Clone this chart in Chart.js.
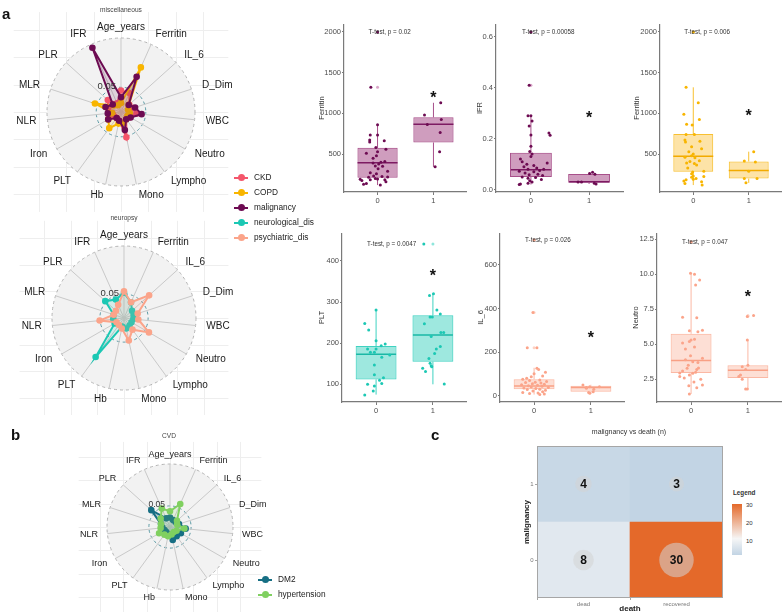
<!DOCTYPE html>
<html>
<head>
<meta charset="utf-8">
<script src="https://cdn.jsdelivr.net/npm/chart.js@4.4.1/dist/chart.umd.min.js"></script>
<style>
  body { margin: 0; background: #fff; font-family: "Liberation Sans", Arial, sans-serif; }
  #fig { position: relative; width: 784px; height: 614px; overflow: hidden; }
  canvas { position: absolute; }
  .tag { position: absolute; font-weight: bold; font-size: 15px; line-height: 15px; color: #111; }
  .sub { position: absolute; font-size: 6.6px; line-height: 8px; color: #444; transform: translateX(-50%); white-space: nowrap; }
  .leg { position: absolute; font-size: 8.3px; color: #222; white-space: nowrap; }
  .leg div { position: relative; height: 15px; line-height: 15px; padding-left: 20px; }
  .leg i { position: absolute; left: 0; top: 6.5px; width: 14px; height: 2px; }
  .leg i:after { content: ''; position: absolute; left: 3.5px; top: -2.5px; width: 7px; height: 7px; border-radius: 50%; background: inherit; }
  .txt { position: absolute; white-space: nowrap; color: #333; }
</style>
</head>
<body>
<div id="fig">
  <canvas id="radarMisc" width="250" height="215" style="left:0;top:0"></canvas>
  <canvas id="radarNeuro" width="250" height="200" style="left:0;top:215px"></canvas>
  <canvas id="radarCvd" width="290" height="194" style="left:0;top:420px"></canvas>

  <canvas id="boxFerMalig" width="150" height="184" style="left:317px;top:24px"></canvas>
  <canvas id="boxIfrMalig" width="149" height="184" style="left:475px;top:24px"></canvas>
  <canvas id="boxFerCopd" width="150" height="184" style="left:632px;top:24px"></canvas>
  <canvas id="boxPltNeuro" width="150" height="185" style="left:317px;top:233px"></canvas>
  <canvas id="boxIl6Psych" width="149" height="185" style="left:476px;top:233px"></canvas>
  <canvas id="boxNeutroPsych" width="151" height="185" style="left:631px;top:233px"></canvas>

  <canvas id="heat" width="201" height="168" style="left:522px;top:446px"></canvas>

  <div class="tag" style="left:2px;top:6px">a</div>
  <div class="tag" style="left:11px;top:427px">b</div>
  <div class="tag" style="left:431px;top:427px">c</div>

  <div class="sub" style="left:121px;top:6px">miscellaneous</div>
  <div class="sub" style="left:124px;top:214px">neuropsy</div>
  <div class="sub" style="left:169px;top:432px">CVD</div>

  <div class="leg" style="left:234px;top:170px">
    <div><i style="background:#f4566b"></i>CKD</div>
    <div><i style="background:#f8b500"></i>COPD</div>
    <div><i style="background:#6d0b52"></i>malignancy</div>
    <div><i style="background:#1cc8b4"></i>neurological_dis</div>
    <div><i style="background:#fba48a"></i>psychiatric_dis</div>
  </div>
  <div class="leg" style="left:258px;top:572px">
    <div><i style="background:#176f84"></i>DM2</div>
    <div><i style="background:#80d060"></i>hypertension</div>
  </div>

  <div class="txt" style="left:629px;top:428px;font-size:7px;transform:translateX(-50%)">malignancy vs death (n)</div>
  <div class="txt" style="left:733px;top:489px;font-size:6.3px;font-weight:bold">Legend</div>
  <div style="position:absolute;left:732px;top:504px;width:10px;height:51px;background:linear-gradient(to bottom,#e4692a 0%,#f6f6f6 68%,#c2d4e4 100%)"></div>
  <div class="txt" style="left:746px;top:502px;font-size:6px">30</div>
  <div class="txt" style="left:746px;top:520px;font-size:6px">20</div>
  <div class="txt" style="left:746px;top:538px;font-size:6px">10</div>
</div>

<script>
// ---- radar data (share of outer radius, 0.05 level sits on the dashed ring) ----
const radarAxes = ['Age_years', 'Ferritin', 'IL_6', 'D_Dim', 'WBC', 'Neutro', 'Lympho', 'Mono', 'Hb', 'PLT', 'Iron', 'NLR', 'MLR', 'PLR', 'IFR'];
const ringLevel = 0.335;

const ckd = [0.29, 0.28, 0.15, 0.17, 0.21, 0.14, 0.12, 0.35, 0.12, 0.10, 0.11, 0.12, 0.18, 0.24, 0.13];
const copd = [0.12, 0.66, 0.14, 0.10, 0.12, 0.10, 0.12, 0.15, 0.16, 0.27, 0.20, 0.12, 0.37, 0.13, 0.10];
const malignancy = [0.20, 0.52, 0.14, 0.20, 0.28, 0.15, 0.12, 0.25, 0.12, 0.10, 0.20, 0.18, 0.22, 0.15, 0.95];

const neurologicalDis = [0.35, 0.24, 0.15, 0.14, 0.13, 0.12, 0.13, 0.15, 0.12, 0.67, 0.15, 0.15, 0.15, 0.35, 0.28];
const psychiatricDis = [0.37, 0.24, 0.47, 0.20, 0.20, 0.40, 0.20, 0.32, 0.15, 0.12, 0.12, 0.34, 0.15, 0.15, 0.20];

const dm2 = [0.15, 0.12, 0.12, 0.15, 0.25, 0.20, 0.18, 0.21, 0.12, 0.10, 0.10, 0.12, 0.15, 0.40, 0.15];
const hypertension = [0.25, 0.40, 0.15, 0.12, 0.23, 0.12, 0.10, 0.12, 0.15, 0.15, 0.20, 0.15, 0.15, 0.20, 0.32];

// ---- boxplot data: stats = [lower whisker, q1, median, q3, upper whisker] per group ----
const groupLabels = ['0', '1'];

const ferMaligStats = [[120, 209, 393, 577, 860], [344, 643, 868, 951, 1130]];
const ferMaligOut = [[0, 1320], [0, 2000]];
// [group, value, jitter]
const ferMaligPts = [
  [0, 1320, -0.12], [0, 860, 0], [0, 735, 0], [0, 735, -0.13], [0, 672, -0.14], [0, 650, -0.14], [0, 663, 0.12],
  [0, 580, -0.03], [0, 560, 0.15], [0, 530, 0], [0, 510, -0.2], [0, 480, -0.02], [0, 450, -0.08], [0, 410, 0.13],
  [0, 400, 0.06], [0, 390, -0.08], [0, 380, 0.02], [0, 355, -0.04], [0, 350, 0.09], [0, 320, 0.01], [0, 290, 0.18],
  [0, 270, -0.13], [0, 260, -0.02], [0, 230, -0.07], [0, 225, 0.08], [0, 220, 0.18], [0, 215, -0.16], [0, 200, -0.04],
  [0, 195, 0], [0, 190, -0.31], [0, 185, 0.13], [0, 185, -0.13], [0, 175, -0.28], [0, 160, 0.15], [0, 140, -0.2],
  [0, 130, -0.25], [0, 120, 0.05], [0, 2000, 0],
  [1, 1130, 0.13], [1, 979, -0.16], [1, 926, 0.14], [1, 864, -0.11], [1, 766, 0.12], [1, 529, 0.11], [1, 344, 0.03]
];

const ifrMaligStats = [[0.02, 0.05, 0.078, 0.145, 0.29], [0.022, 0.027, 0.031, 0.061, 0.068]];
const ifrMaligOut = [[0, 0.41], [0, 0.62]];
const ifrMaligPts = [
  [0, 0.62, 0], [0, 0.41, -0.03], [0, 0.29, 0], [0, 0.29, -0.05], [0, 0.27, 0.02], [0, 0.25, -0.03], [0, 0.223, 0.31],
  [0, 0.214, 0.33], [0, 0.215, 0], [0, 0.17, 0], [0, 0.15, -0.02], [0, 0.14, 0.02], [0, 0.13, 0], [0, 0.12, -0.18],
  [0, 0.11, -0.15], [0, 0.105, 0.28], [0, 0.10, -0.07], [0, 0.095, 0.05], [0, 0.09, -0.12], [0, 0.085, 0.1],
  [0, 0.08, -0.05], [0, 0.08, 0.22], [0, 0.075, 0.15], [0, 0.072, -0.2], [0, 0.07, 0.05], [0, 0.065, -0.1],
  [0, 0.06, 0.12], [0, 0.058, -0.03], [0, 0.055, 0.2], [0, 0.05, -0.15], [0, 0.048, 0.08], [0, 0.045, -0.05],
  [0, 0.04, 0.18], [0, 0.035, -0.02], [0, 0.03, 0.02], [0, 0.025, -0.05], [0, 0.022, -0.18], [0, 0.02, -0.2],
  [1, 0.03, -0.19], [1, 0.03, -0.13], [1, 0.063, 0.01], [1, 0.068, 0.06], [1, 0.06, 0.1], [1, 0.025, 0.09], [1, 0.022, 0.12]
];

const ferCopdStats = [[120, 283, 475, 746, 1320], [147, 200, 300, 410, 530]];
const ferCopdOut = [[0, 2000]];
const ferCopdPts = [
  [0, 2000, 0], [0, 1320, -0.13], [0, 1130, 0.09], [0, 988, -0.17], [0, 926, 0.11], [0, 868, -0.12], [0, 857, -0.02],
  [0, 742, -0.13], [0, 742, 0.02], [0, 672, -0.15], [0, 657, 0.12], [0, 650, -0.14], [0, 590, -0.03], [0, 565, 0.15],
  [0, 530, -0.08], [0, 500, 0], [0, 480, -0.03], [0, 460, -0.15], [0, 455, 0.03], [0, 420, 0.11], [0, 410, -0.06],
  [0, 390, -0.12], [0, 385, 0.02], [0, 365, 0.06], [0, 330, -0.1], [0, 290, 0.19], [0, 280, -0.01], [0, 260, -0.03],
  [0, 230, 0], [0, 225, 0.19], [0, 215, -0.03], [0, 200, 0.05], [0, 190, 0], [0, 185, -0.13], [0, 170, -0.17],
  [0, 160, 0.15], [0, 140, -0.15], [0, 120, 0.16],
  [1, 530, 0.09], [1, 414, -0.08], [1, 404, 0.12], [1, 291, 0], [1, 201, -0.08], [1, 201, 0.15], [1, 147, -0.05]
];

const pltNeuroStats = [[75, 112, 173, 193, 280], [100, 155, 220, 268, 320]];
const pltNeuroOut = [[1, 441]];
const pltNeuroPts = [
  [0, 281, 0], [0, 248, -0.2], [0, 232, -0.13], [0, 206, 0], [0, 194, 0.09], [0, 198, 0.16], [0, 186, -0.15],
  [0, 186, 0], [0, 178, -0.1], [0, 178, -0.03], [0, 171, 0.24], [0, 166, 0.1], [0, 147, -0.03], [0, 123, -0.03],
  [0, 116, 0.13], [0, 110, 0.06], [0, 102, 0.1], [0, 100, -0.15], [0, 96, -0.03], [0, 84, -0.05], [0, 74, -0.2],
  [1, 441, -0.16], [1, 320, 0.01], [1, 316, -0.06], [1, 281, 0.07], [1, 271, 0.13], [1, 264, -0.05], [1, 264, -0.01],
  [1, 247, -0.15], [1, 226, 0.14], [1, 226, 0.19], [1, 216, -0.03], [1, 192, 0.13], [1, 186, 0.06], [1, 175, 0.03],
  [1, 163, -0.07], [1, 151, -0.05], [1, 145, -0.03], [1, 143, -0.02], [1, 139, -0.18], [1, 131, -0.13], [1, 101, 0.2]
];

const il6PsychStats = [[5, 29, 44, 75, 128], [10, 18, 37, 46, 50]];
const il6PsychOut = [[0, 220], [0, 381], [0, 714]];
const il6PsychPts = [
  [0, 714, 0], [0, 381, -0.02], [0, 220, -0.12], [0, 220, 0.05], [0, 126, 0.05], [0, 120, 0.08], [0, 107, 0.2],
  [0, 100, 0], [0, 90, 0.15], [0, 87, -0.05], [0, 80, -0.13], [0, 75, -0.2], [0, 72, 0.1], [0, 70, -0.08],
  [0, 65, 0.22], [0, 62, 0.02], [0, 60, -0.15], [0, 58, 0.12], [0, 55, -0.03], [0, 52, 0.18], [0, 50, -0.22],
  [0, 48, 0.06], [0, 45, -0.1], [0, 43, 0.14], [0, 40, -0.05], [0, 38, 0.25], [0, 35, -0.18], [0, 33, 0.03],
  [0, 30, 0.1], [0, 28, -0.12], [0, 25, 0.2], [0, 22, -0.02], [0, 18, 0.15], [0, 15, -0.2], [0, 12, 0.07],
  [0, 10, -0.08], [0, 8, 0.18], [0, 5, 0.1],
  [1, 49, -0.14], [1, 41, -0.02], [1, 41, 0.15], [1, 38, -0.08], [1, 34, -0.08], [1, 30, 0.05], [1, 18, 0.04],
  [1, 14, -0.04], [1, 11, -0.02]
];

const neutroPsychStats = [[1.45, 2.95, 3.85, 5.75, 10.07], [1.8, 2.6, 3.15, 3.5, 5.3]];
const neutroPsychOut = [[0, 12.3], [1, 7.0], [1, 7.05]];
const neutroPsychPts = [
  [0, 12.3, 0], [0, 10.07, -0.01], [0, 10.0, 0.06], [0, 9.6, 0.15], [0, 9.24, 0.08], [0, 6.93, -0.15], [0, 6.9, 0.1],
  [0, 6.0, 0.2], [0, 5.97, -0.03], [0, 5.9, 0.12], [0, 5.36, 0.06], [0, 5.3, 0], [0, 5.2, -0.03], [0, 5.1, -0.15],
  [0, 4.8, 0.06], [0, 4.66, -0.1], [0, 4.19, -0.01], [0, 4.0, 0.2], [0, 3.9, -0.1], [0, 3.76, 0.03], [0, 3.7, 0.12],
  [0, 3.5, -0.05], [0, 3.3, 0.13], [0, 3.29, -0.07], [0, 3.2, 0.1], [0, 3.1, -0.15], [0, 3.0, 0.08], [0, 2.95, -0.2],
  [0, 2.93, 0.03], [0, 2.8, -0.03], [0, 2.7, -0.2], [0, 2.6, -0.12], [0, 2.5, 0.17], [0, 2.3, 0.05], [0, 2.1, 0.2],
  [0, 2.04, -0.04], [0, 1.9, 0.1], [0, 1.45, -0.03],
  [1, 7.05, 0.1], [1, 6.98, -0.01], [1, 5.3, -0.01], [1, 3.5, 0], [1, 3.4, -0.1], [1, 3.2, -0.04], [1, 2.8, -0.13],
  [1, 2.7, -0.16], [1, 2.5, -0.1], [1, 1.8, -0.04], [1, 1.8, -0.01]
];

// ---- heatmap data ----
const deathLabels = ['dead', 'recovered'];
const maligLevels = [0, 1];
const caseCounts = [[8, 30], [4, 3]]; // rows follow maligLevels

Chart.defaults.font.family = '"Liberation Sans", Arial, sans-serif';
Chart.defaults.animation = false;
Chart.defaults.responsive = false;
Chart.defaults.layout.autoPadding = false;
Chart.defaults.plugins.legend.display = false;
Chart.defaults.plugins.tooltip.enabled = false;

// faint panel grid behind the radars, as in the ggplot theme
const panelGrid = {
  id: 'panelGrid',
  beforeDraw(chart, args, o) {
    const s = chart.scales.r, ctx = chart.ctx;
    const R = s.drawingArea, step = R * o.step, hx = R * 1.45, hy = R * 1.35;
    ctx.save();
    ctx.strokeStyle = '#eeeeee';
    ctx.lineWidth = 1;
    ctx.beginPath();
    for (let k = -6; k <= 6; k++) {
      const off = k * step;
      if (Math.abs(off) <= hx) {
        const x = Math.round(s.xCenter + off) + 0.5;
        ctx.moveTo(x, s.yCenter - hy);
        ctx.lineTo(x, s.yCenter + hy);
      }
      if (Math.abs(off) <= hy) {
        const y = Math.round(s.yCenter + off) + 0.5;
        ctx.moveTo(s.xCenter - hx, y);
        ctx.lineTo(s.xCenter + hx, y);
      }
    }
    ctx.stroke();
    ctx.restore();
  }
};

// axis labels around the radar, ggradar style (left / centred / right anchored)
const radarText = {
  id: 'radarText',
  afterDraw(chart, args, o) {
    const s = chart.scales.r, ctx = chart.ctx;
    ctx.save();
    ctx.fillStyle = '#1a1a1a';
    ctx.font = o.size + 'px "Liberation Sans", Arial, sans-serif';
    ctx.textBaseline = 'middle';
    radarAxes.forEach((lab, i) => {
      const p = s.getPointPosition(i, s.drawingArea * 1.15);
      const dx = p.x - s.xCenter;
      ctx.textAlign = Math.abs(dx) < 1 ? 'center' : (dx > 0 ? 'left' : 'right');
      ctx.fillText(lab, p.x, p.y);
    });
    ctx.font = (o.size - 0.5) + 'px "Liberation Sans", Arial, sans-serif';
    ctx.textAlign = 'right';
    ctx.fillStyle = '#333';
    ctx.fillText('0.05', s.xCenter - 5, s.yCenter - s.getDistanceFromCenterForValue(ringLevel) - 1);
    ctx.restore();
  }
};

function radar(id, series, pad, size) {
  new Chart(document.getElementById(id), {
    type: 'radar',
    data: {
      labels: radarAxes,
      datasets: series.map((s, i) => ({
        label: s[0],
        data: s[1],
        borderColor: s[2],
        backgroundColor: s[2] + '26',
        pointBackgroundColor: s[2],
        pointBorderColor: s[2],
        pointRadius: 2.3,
        borderWidth: 2,
        fill: true,
        order: -i,
      })),
    },
    options: {
      layout: { padding: pad },
      scales: {
        r: {
          min: 0,
          max: 1,
          backgroundColor: '#f2f2f2',
          afterBuildTicks: (sc) => { sc.ticks = [{ value: 0 }, { value: ringLevel }, { value: 1 }]; },
          ticks: { display: false },
          grid: { circular: true, lineWidth: 1, color: (c) => (c.tick && c.tick.value === 1 ? '#b3b3b3' : '#5b9aa5') },
          border: { dash: [3, 3] },
          angleLines: { color: '#c9c9c9', lineWidth: 1 },
          pointLabels: { display: false },
        },
      },
      plugins: { radarText: { size }, panelGrid: { step: 0.37 } },
    },
    plugins: [panelGrid, radarText],
  });
}

radar('radarMisc', [['CKD', ckd, '#f4566b'], ['COPD', copd, '#f8b500'], ['malignancy', malignancy, '#6d0b52']],
  { left: 47, top: 38, right: 55, bottom: 29 }, 10);
radar('radarNeuro', [['neurological_dis', neurologicalDis, '#1cc8b4'], ['psychiatric_dis', psychiatricDis, '#fba48a']],
  { left: 52, top: 31, right: 54, bottom: 25 }, 10);
radar('radarCvd', [['DM2', dm2, '#176f84'], ['hypertension', hypertension, '#80d060']],
  { left: 107, top: 44, right: 57, bottom: 24 }, 9);

// p-value label and significance star
const boxText = {
  id: 'boxText',
  afterDatasetsDraw(chart, args, o) {
    const xs = chart.scales.x, ys = chart.scales.y, ctx = chart.ctx;
    ctx.save();
    ctx.fillStyle = '#333';
    ctx.font = '6.3px "Liberation Sans", Arial, sans-serif';
    ctx.textAlign = 'left';
    ctx.textBaseline = 'middle';
    ctx.fillText(o.text, xs.getPixelForValue(1) - 9, ys.getPixelForValue(o.top));
    ctx.fillStyle = '#111';
    ctx.font = 'bold 16px "Liberation Sans", Arial, sans-serif';
    ctx.textAlign = 'center';
    ctx.textBaseline = 'alphabetic';
    ctx.fillText('*', xs.getPixelForValue(2), ys.getPixelForValue(o.star) + 9);
    ctx.restore();
  }
};

function boxPanel(id, p) {
  const whisk = [];
  p.stats.forEach((s, i) => {
    whisk.push({ x: i + 1, y: s[0] }, { x: i + 1, y: s[1] }, { x: i + 1, y: null },
      { x: i + 1, y: s[3] }, { x: i + 1, y: s[4] }, { x: i + 1, y: null });
  });
  const top = Math.max(...p.pts.map((q) => q[1]));
  const axisCol = '#7a7a7a';
  new Chart(document.getElementById(id), {
    type: 'bar',
    data: {
      datasets: [
        { type: 'scatter', data: p.pts.map((q) => ({ x: q[0] + 1 + q[2], y: q[1] })), pointRadius: 1.5, backgroundColor: p.dot, borderWidth: 0 },
        { type: 'scatter', data: p.stats.map((s, i) => ({ x: i + 1, y: s[2] })), pointStyle: 'line', pointRadius: 20, borderColor: p.med, borderWidth: 1.5 },
        { type: 'scatter', data: p.out.map((q) => ({ x: q[0] + 1, y: q[1] })), pointRadius: 1.5, backgroundColor: p.outCol, borderWidth: 0 },
        { type: 'line', data: whisk, borderColor: p.line, borderWidth: 1, pointRadius: 0, spanGaps: false },
        { type: 'bar', data: p.stats.map((s, i) => ({ x: i + 1, y: [s[1], s[3]] })), backgroundColor: p.fill, borderColor: p.line,
          borderWidth: 1, borderSkipped: false, barPercentage: 0.9, categoryPercentage: 0.8 },
      ],
    },
    options: {
      layout: { padding: 0 },
      scales: {
        x: {
          type: 'linear', min: 0.4, max: 2.6, offset: false,
          afterBuildTicks: (s) => { s.ticks = [{ value: 1 }, { value: 2 }]; },
          ticks: { callback: (v) => groupLabels[v - 1], font: { size: 7.5 }, color: '#4d4d4d', padding: 1.5, maxRotation: 0, autoSkip: false },
          grid: { display: true, drawOnChartArea: false, offset: false, tickLength: 3, color: axisCol },
          border: { color: axisCol, width: 1.2 },
          afterFit: (s) => { s.height = 16; s.paddingLeft = 0; s.paddingRight = 0; },
        },
        y: {
          min: p.min, max: p.max,
          afterBuildTicks: (s) => { s.ticks = p.ticks.map((v) => ({ value: v })); },
          ticks: { callback: (v) => v.toFixed(p.dec), font: { size: 7.5 }, color: '#4d4d4d', padding: 1 },
          title: { display: true, text: p.title, font: { size: 7.5 }, color: '#333', padding: 0 },
          grid: { display: true, drawOnChartArea: false, tickLength: 2, color: axisCol },
          border: { color: axisCol, width: 1.2 },
          afterFit: (s) => { s.width = p.w; s.paddingTop = 0; s.paddingBottom = 0; },
        },
      },
      plugins: { boxText: { text: p.text, top, star: p.star } },
    },
    plugins: [boxText],
  });
}

const maligCol = { dot: '#6d0b52', med: '#7d1a62', line: '#a8508a', fill: 'rgba(160,60,125,0.5)', outCol: '#d9a6c8' };
const copdCol = { dot: '#f8b500', med: '#f2aa00', line: '#f8c030', fill: 'rgba(252,200,80,0.5)', outCol: '#fbd680' };
const neuroCol = { dot: '#1cc8b4', med: '#1ab8a6', line: '#3fd2c1', fill: 'rgba(40,205,185,0.45)', outCol: '#8fe6dc' };
const psychCol = { dot: '#fba48a', med: '#f8a085', line: '#fbb8a4', fill: 'rgba(251,170,145,0.38)', outCol: '#fdd2c4' };

boxPanel('boxFerMalig', Object.assign({ stats: ferMaligStats, out: ferMaligOut, pts: ferMaligPts, min: 35, max: 2097,
  ticks: [500, 1000, 1500, 2000], dec: 0, title: 'Ferritin', w: 27, text: 'T-test, p = 0.02', star: 1233 }, maligCol));
boxPanel('boxIfrMalig', Object.assign({ stats: ifrMaligStats, out: ifrMaligOut, pts: ifrMaligPts, min: -0.0094, max: 0.651,
  ticks: [0, 0.2, 0.4, 0.6], dec: 1, title: 'IFR', w: 21, text: 'T-test, p = 0.00058', star: 0.296 }, maligCol));
boxPanel('boxFerCopd', Object.assign({ stats: ferCopdStats, out: ferCopdOut, pts: ferCopdPts, min: 35, max: 2097,
  ticks: [500, 1000, 1500, 2000], dec: 0, title: 'Ferritin', w: 28, text: 'T-test, p = 0.006', star: 1020 }, copdCol));
boxPanel('boxPltNeuro', Object.assign({ stats: pltNeuroStats, out: pltNeuroOut, pts: pltNeuroPts, min: 57, max: 468,
  ticks: [100, 200, 300, 400], dec: 0, title: 'PLT', w: 25, text: 'T-test, p = 0.0047', star: 372 }, neuroCol));
boxPanel('boxIl6Psych', Object.assign({ stats: il6PsychStats, out: il6PsychOut, pts: il6PsychPts, min: -29, max: 746,
  ticks: [0, 200, 400, 600], dec: 0, title: 'IL_6', w: 24, text: 'T-test, p = 0.026', star: 282 }, psychCol));
boxPanel('boxNeutroPsych', Object.assign({ stats: neutroPsychStats, out: neutroPsychOut, pts: neutroPsychPts, min: 0.88, max: 12.95,
  ticks: [2.5, 5, 7.5, 10, 12.5], dec: 1, title: 'Neutro', w: 26, text: 'T-test, p = 0.047', star: 8.7 }, psychCol));

// ---- heatmap ----
function heatColor(n) {
  const lo = [194, 212, 228], mid = [246, 246, 246], hi = [228, 105, 42];
  const mix = (a, b, t) => 'rgb(' + a.map((v, k) => Math.round(v + (b[k] - v) * t)).join(',') + ')';
  return n <= 11.5 ? mix(lo, mid, (n - 3) / 8.5) : mix(mid, hi, (n - 11.5) / 18.5);
}

const heatText = {
  id: 'heatText',
  afterDatasetsDraw(chart) {
    const xs = chart.scales.x, ys = chart.scales.y, ctx = chart.ctx, a = chart.chartArea;
    ctx.save();
    ctx.strokeStyle = '#a6a6a6';
    ctx.lineWidth = 1;
    ctx.strokeRect(a.left + 0.5, a.top + 0.5, a.width - 1, a.height - 1);
    ctx.fillStyle = '#111';
    ctx.font = 'bold 12px "Liberation Sans", Arial, sans-serif';
    ctx.textAlign = 'center';
    ctx.textBaseline = 'middle';
    maligLevels.forEach((m, r) => {
      caseCounts[r].forEach((n, c) => ctx.fillText(String(n), xs.getPixelForValue(c), ys.getPixelForValue(m) + 1));
    });
    ctx.restore();
  }
};

const bubbles = [];
maligLevels.forEach((m, r) => caseCounts[r].forEach((n, c) => bubbles.push({ x: deathLabels[c], y: m, r: 3 + 2.6 * Math.sqrt(n) })));

new Chart(document.getElementById('heat'), {
  type: 'bar',
  data: {
    labels: deathLabels,
    datasets: [
      { type: 'bubble', data: bubbles, backgroundColor: 'rgba(212,212,212,0.55)', borderWidth: 0 },
    ].concat(maligLevels.map((m, r) => ({
      data: deathLabels.map(() => [m - 0.5, m + 0.5]),
      backgroundColor: caseCounts[r].map(heatColor),
      borderWidth: 0, grouped: false, barPercentage: 1, categoryPercentage: 1,
    }))),
  },
  options: {
    layout: { padding: 0 },
    scales: {
      x: {
        ticks: { font: { size: 6 }, color: '#777', padding: 1 },
        grid: { display: true, drawOnChartArea: false, tickLength: 2, color: '#a6a6a6' },
        border: { display: false },
        title: { display: true, text: 'death', font: { size: 8, weight: 'bold' }, color: '#222', padding: 0 },
        afterFit: (s) => { s.height = 16; s.paddingLeft = 0; s.paddingRight = 0; },
      },
      y: {
        min: -0.5, max: 1.5,
        afterBuildTicks: (s) => { s.ticks = maligLevels.map((v) => ({ value: v })); },
        ticks: { font: { size: 6 }, color: '#777', padding: 1.5 },
        grid: { display: true, drawOnChartArea: false, tickLength: 2, color: '#a6a6a6' },
        border: { display: false },
        title: { display: true, text: 'malignancy', font: { size: 8, weight: 'bold' }, color: '#222', padding: 0 },
        afterFit: (s) => { s.width = 15; s.paddingTop = 0; s.paddingBottom = 0; },
      },
    },
  },
  plugins: [heatText],
});
</script>
</body>
</html>
